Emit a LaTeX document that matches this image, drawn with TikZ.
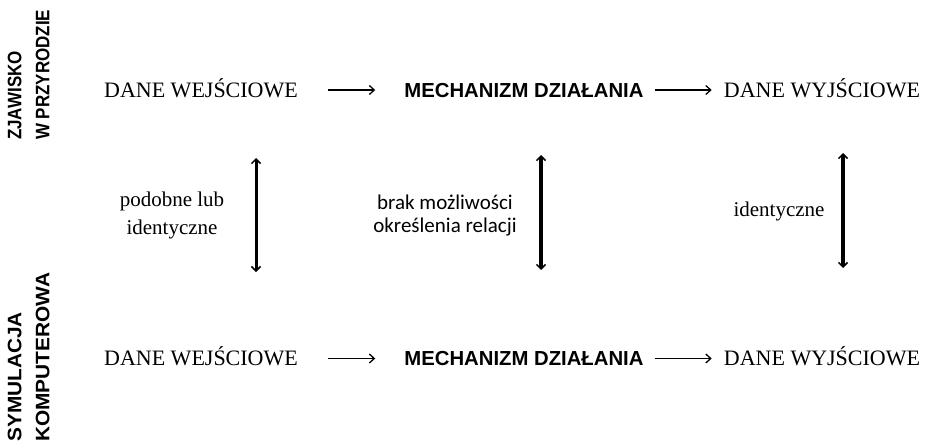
\documentclass[tikz,border=0pt]{standalone}
\usepackage{fontspec}
\setmainfont{Liberation Serif}
\setsansfont{Liberation Sans}
\newfontfamily\calibrifont{Carlito}
\newfontfamily\sidefontA[FakeStretch=0.87]{Liberation Sans Bold}
\newfontfamily\sidefontB[FakeStretch=1.07]{Liberation Sans Bold}
\usetikzlibrary{arrows.meta}
\tikzset{
  rowtxt/.style   = {inner sep=0pt, text height=14.5pt, text depth=0pt,
                     font=\fontsize{22}{26}\selectfont},
  mechtxt/.style  = {inner sep=0pt, text height=14.5pt, text depth=0pt,
                     font=\sffamily\bfseries\fontsize{20.3}{24}\selectfont},
  sidelbl/.style  = {inner sep=0pt, rotate=90, anchor=north west, align=left},
  relserif/.style = {inner sep=0pt, align=center, font=\fontsize{21}{28}\selectfont},
  relsans/.style  = {inner sep=0pt, align=center, font=\calibrifont\fontsize{21}{23}\selectfont},
  harrow/.style   = {-{Straight Barb[length=5pt,width=9pt,line width=1.3pt]}, line width=1.5pt},
  varrow/.style   = {{Straight Barb[length=4.5pt,width=9pt,line width=1.5pt]}-{Straight Barb[length=4.5pt,width=9pt,line width=1.5pt]},
                     line width=3.2pt},
}

\begin{document}
\begin{tikzpicture}[x=1pt,y=-1pt]
\useasboundingbox (0,0) rectangle (929,447);
% side labels
\node[sidelbl, font=\sidefontA\fontsize{19.5}{28}\selectfont] (nature) at (7.5,140) {ZJAWISKO\\W PRZYRODZIE};
\node[sidelbl, font=\sidefontB\fontsize{19.5}{28}\selectfont] (sim) at (7.5,442) {SYMULACJA\\KOMPUTEROWA};
% top row: phenomenon
\node[rowtxt]  (in1)   at (201,90) {DANE WEJŚCIOWE};
\node[mechtxt] (mech1) at (524,90) {MECHANIZM DZIAŁANIA};
\node[rowtxt]  (out1)  at (822,90) {DANE WYJŚCIOWE};
% bottom row: simulation
\node[rowtxt]  (in2)   at (201,358.5) {DANE WEJŚCIOWE};
\node[mechtxt] (mech2) at (524,358.5) {MECHANIZM DZIAŁANIA};
\node[rowtxt]  (out2)  at (822,358.5) {DANE WYJŚCIOWE};
\draw[harrow, shorten <=30pt, shorten >=29pt] (in1) -- (mech1);
\draw[harrow, shorten <=11pt, shorten >=12pt] (mech1) -- (out1);
\draw[harrow, shorten <=30pt, shorten >=29pt] (in2) -- (mech2);
\draw[harrow, shorten <=11pt, shorten >=12pt] (mech2) -- (out2);
% relations between the rows
\node[relserif] (rin)   at (172,215) {podobne lub\\identyczne};
\node[relsans]  (rmech) at (445,216) {brak możliwości\\określenia relacji};
\node[relserif] (rout)  at (779,211) {identyczne};
\coordinate (ina)   at (256,158);
\coordinate (inb)   at (256,272);
\coordinate (mecha) at (541,155);
\coordinate (mechb) at (541,270);
\coordinate (outa)  at (843,153);
\coordinate (outb)  at (843,268);
\draw[varrow, line width=3pt] (ina) -- (inb);
\draw[varrow] (mecha) -- (mechb);
\draw[varrow] (outa) -- (outb);
\end{tikzpicture}
\end{document}
